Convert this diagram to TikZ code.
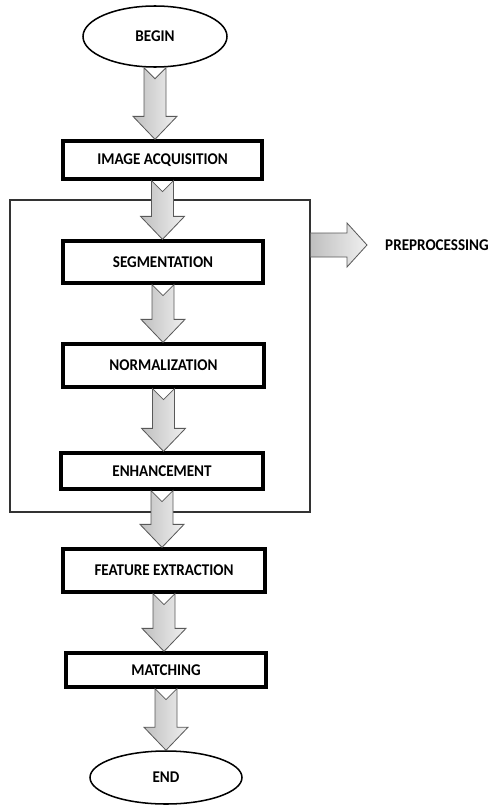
\documentclass[tikz,border=0pt]{standalone}
\usepackage{fontspec}
\setmainfont{Carlito}[FakeStretch=0.92]
\usetikzlibrary{shapes.geometric,calc}

% notched block arrow from the bottom of one node to the top of the next
\newcommand{\flowarrow}[2]{%
  \coordinate (tail) at (#1.south);
  \coordinate (tip) at (tail |- #2.north);
  \draw [arrowbody] ($(tail)+(-11,0)$) -- ($(tail)+(0,11)$) -- ($(tail)+(11,0)$)
    -- ($(tip)+(11,-23)$) -- ($(tip)+(22,-23)$) -- (tip)
    -- ($(tip)+(-22,-23)$) -- ($(tip)+(-11,-23)$) -- cycle;
}

\begin{document}
\begin{tikzpicture}[x=0.03cm, y=-0.03cm, font=\bfseries\fontsize{14}{16}\selectfont]
    \tikzstyle{every node} = [inner sep=0pt]
    \tikzstyle{stepbox} = [rectangle, draw, line width=2.8pt, fill=white]
    \tikzstyle{terminal} = [ellipse, draw, line width=1.3pt, fill=white]
    \tikzstyle{arrowbody} = [draw=black!65, line width=0.7pt, left color=gray!50, right color=gray!12]

    \useasboundingbox (0,0) rectangle (490,809);

    \node (prep) at (160, 356) [draw=black!80, line width=0.9pt, minimum width=9cm, minimum height=9.36cm] {};

    \node (start) at (155, 36.5) [terminal, minimum width=4.32cm, minimum height=1.83cm] {BEGIN};
    \node (acq) at (162.5, 160) [stepbox, minimum width=5.97cm, minimum height=1.14cm] {IMAGE ACQUISITION};

    \node (seg) at (163, 262) [stepbox, minimum width=6cm, minimum height=1.26cm] {SEGMENTATION};
    \node (norm) at (163.5, 365.5) [stepbox, minimum width=6.03cm, minimum height=1.29cm] {NORMALIZATION};
    \node (enh) at (162, 471) [stepbox, minimum width=6.06cm, minimum height=1.08cm] {ENHANCEMENT};

    \node (feat) at (164, 570.5) [stepbox, minimum width=6.06cm, minimum height=1.29cm] {FEATURE EXTRACTION};
    \node (match) at (166, 670) [stepbox, minimum width=6cm, minimum height=1.02cm] {MATCHING};
    \node (stop) at (166, 777.5) [terminal, minimum width=4.56cm, minimum height=1.59cm] {END};

    \node (label) at (385, 245) [anchor=west] {PREPROCESSING};

    \flowarrow{start}{acq}
    \flowarrow{acq}{seg}
    \flowarrow{seg}{norm}
    \flowarrow{norm}{enh}
    \flowarrow{enh}{feat}
    \flowarrow{feat}{match}
    \flowarrow{match}{stop}

    \coordinate (ptail) at (prep.east |- label.west);
    \coordinate (ptip) at ($(label.west)+(-18,0)$);
    \draw [arrowbody] ($(ptail)+(0,-12)$) -- ($(ptip)+(-20,-12)$) -- ($(ptip)+(-20,-22)$) -- (ptip)
        -- ($(ptip)+(-20,22)$) -- ($(ptip)+(-20,12)$) -- ($(ptail)+(0,12)$) -- cycle;
\end{tikzpicture}
\end{document}
